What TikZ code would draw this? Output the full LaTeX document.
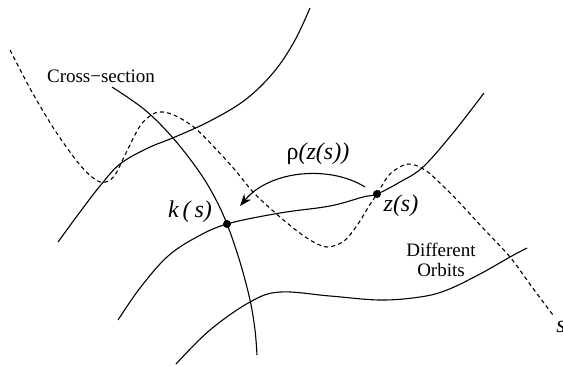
\documentclass[tikz,border=0pt]{standalone}
\usepackage{fontspec}
\setmainfont{Liberation Serif}
\usepackage{tikz}
\usetikzlibrary{arrows.meta,calc,positioning}

\tikzset{
  orbit/.style={line width=0.55pt},
  slicecurve/.style={line width=0.55pt},
  scurve/.style={line width=0.55pt, dash pattern=on 2pt off 1.6pt},
  lbl/.style={inner sep=0pt, font=\fontsize{9.5}{11}\selectfont},
  mlbl/.style={inner sep=0pt, font=\fontsize{12}{14}\selectfont\itshape}
}

\begin{document}
\begin{tikzpicture}[x=0.5pt,y=-0.5pt]
        \useasboundingbox (0,0) rectangle (563,365);
        \coordinate (k) at (227,224);
        \coordinate (z) at (377,194);
        \coordinate (rs) at (365,187);
        \coordinate (re) at (240,206);
        %Draw orbits
        \draw[orbit] plot[smooth,tension=0.6] coordinates {(58,242) (80,212) (100,186) (120,164) (148,148) (175,137) (210,121) (245,100) (273,73) (294,42) (310,8)};
        \draw[orbit] plot[smooth,tension=0.6] coordinates {(118,320) (140,288) (167,257) (195,238) (k) (280,213) (330,206) (363,197) (z) (400,182) (423,167) (453,133) (484,93)};
        \draw[orbit] plot[smooth,tension=0.6] coordinates {(176,364) (210,330) (250,302) (280,292) (330,296) (380,300) (420,297) (447,290) (480,274) (510,257) (527,248)};
        %Draw cross-section
        \draw[slicecurve] plot[smooth,tension=0.6] coordinates {(112,87) (145,110) (173,138) (198,170) (214,196) (k) (240,262) (250,300) (255,330) (257,355)};
        %Draw s curve
        \draw[scurve] plot[smooth,tension=0.55] coordinates {(10,50) (32,92) (56,132) (80,165) (96,180) (106,182) (115,175) (125,155) (140,126) (153,114) (163,112) (176,116) (195,128) (215,148) (235,170) (253,192) (272,210) (292,227) (310,240) (327,247) (344,241) (358,224) (369,206) (z) (390,174) (408,164) (425,170) (440,183) (457,200) (482,227) (510,257) (532,287) (553,315)};
        %Draw arrow
        \draw[line width=0.55pt, -{Stealth[length=6pt,width=4.5pt]}] (rs) .. controls (330,165) and (270,170) .. (re);
        %Draw points
        \fill (k) circle (4);
        \fill (z) circle (4);
        %Draw labels
        \node[lbl] (cross) at (101,76) {Cross−section};
        \node[lbl, align=center] (orbits) at (441,260) {Different\\[-1pt]Orbits};
        \node[mlbl] (klabel) at (190,212) {k\,(\,s)};
        \node[mlbl] (zlabel) at (401,206) {z(s)};
        \node[mlbl] (rlabel) at (318,154) {\upshape ρ\itshape(z(s))};
        \node[mlbl, anchor=west] (slabel) at (556,327) {s};
\end{tikzpicture}
\end{document}
